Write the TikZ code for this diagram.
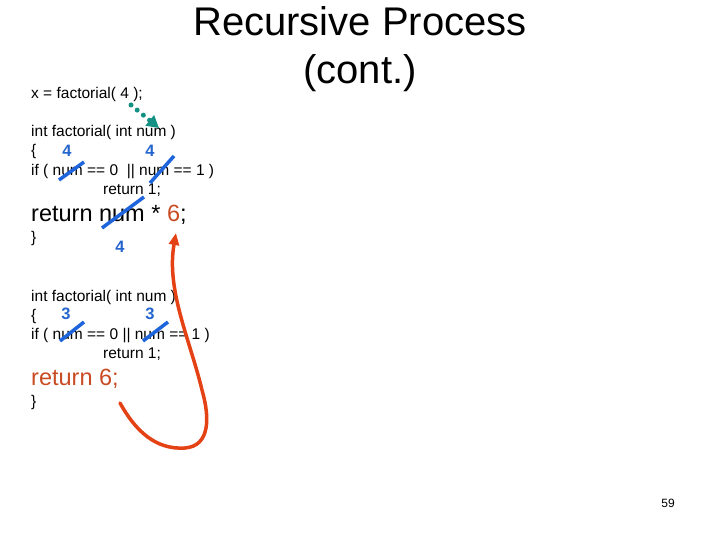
\documentclass[tikz,border=0pt]{standalone}
\usepackage{fontspec}
\setmainfont{Liberation Sans}
\usetikzlibrary{arrows.meta}
\definecolor{strikeblue}{RGB}{30,100,220}
\definecolor{valblue}{RGB}{35,100,205}
\definecolor{retred}{RGB}{200,75,35}
\definecolor{curvered}{RGB}{228,65,20}
\definecolor{callteal}{RGB}{20,145,130}
\begin{document}
\begin{tikzpicture}[x=1pt,y=-1pt,
    code/.style={anchor=base west, inner sep=0pt, font=\fontsize{15.5}{18}\selectfont},
    bigcode/.style={anchor=base west, inner sep=0pt, font=\fontsize{23.5}{26}\selectfont},
    val/.style={inner sep=0pt, text=valblue, font=\fontsize{16.5}{18}\selectfont\bfseries},
    strike/.style={strikeblue, line width=3.5pt}]
        \useasboundingbox (0,0) rectangle (720,540);

        % Title
        \node[anchor=base, inner sep=0pt, font=\fontsize{40}{46}\selectfont] (title) at (360,36) {Recursive Process};
        \node[anchor=base, inner sep=0pt, font=\fontsize{40}{46}\selectfont] (titlecont) at (360,84) {(cont.)};

        % Call
        \node[code] (call) at (31,99) {x = factorial( 4 );};

        % First activation
        \node[code] (head1) at (31,137) {int factorial( int num )};
        \node[code] (open1) at (31,156) {\{};
        \node[code] (test1) at (31,176) {if ( num == 0 \ || num == 1 )};
        \node[code] (base1) at (103,195) {return 1;};
        \node[bigcode] (ret1) at (31,222) {return num * \textcolor{retred}{6};};
        \node[code] (close1) at (31,243) {\}};

        % Second activation
        \node[code] (head2) at (31,301) {int factorial( int num )};
        \node[code] (open2) at (31,320) {\{};
        \node[code] (test2) at (31,339) {if ( num == 0 || num == 1 )};
        \node[code] (base2) at (103,358) {return 1;};
        \node[bigcode, text=retred] (ret2) at (31,385) {return 6;};
        \node[code] (close2) at (31,406) {\}};

        % Values
        \node[val] (v1a) at (67,151) {4};
        \node[val] (v1b) at (150,151) {4};
        \node[val] (v1c) at (120,247) {4};
        \node[val] (v2a) at (66,314) {3};
        \node[val] (v2b) at (150,314) {3};

        % Strikes
        \draw[strike] (59,180) -- (84,162);
        \draw[strike] (150,183) -- (174,156);
        \draw[strike] (102,228) -- (144,197);
        \draw[strike] (60,341) -- (84,322);
        \draw[strike] (143,341) -- (168,322);

        % Arrows
        \coordinate (callarg) at (131,105);
        \coordinate (param) at (159,128);
        \draw[callteal, line width=5pt, line cap=round, dash pattern=on 0pt off 8pt,
              -{Triangle[length=12pt,width=13pt]}] (callarg) -- (param);

        \coordinate (from) at (120,403);
        \coordinate (six) at (176,233);
        \draw[curvered, line width=3.5pt, line cap=round, -{Triangle[length=12pt,width=10pt]}]
            (from) .. controls (135,430) and (155,450) .. (185,448)
            .. controls (210,446) and (210,418) .. (202,390)
            .. controls (190,340) and (166,290) .. (six);

        % Slide number
        \node[inner sep=0pt, font=\fontsize{12}{14}\selectfont] (page) at (668,503) {59};
    \end{tikzpicture}
\end{document}
